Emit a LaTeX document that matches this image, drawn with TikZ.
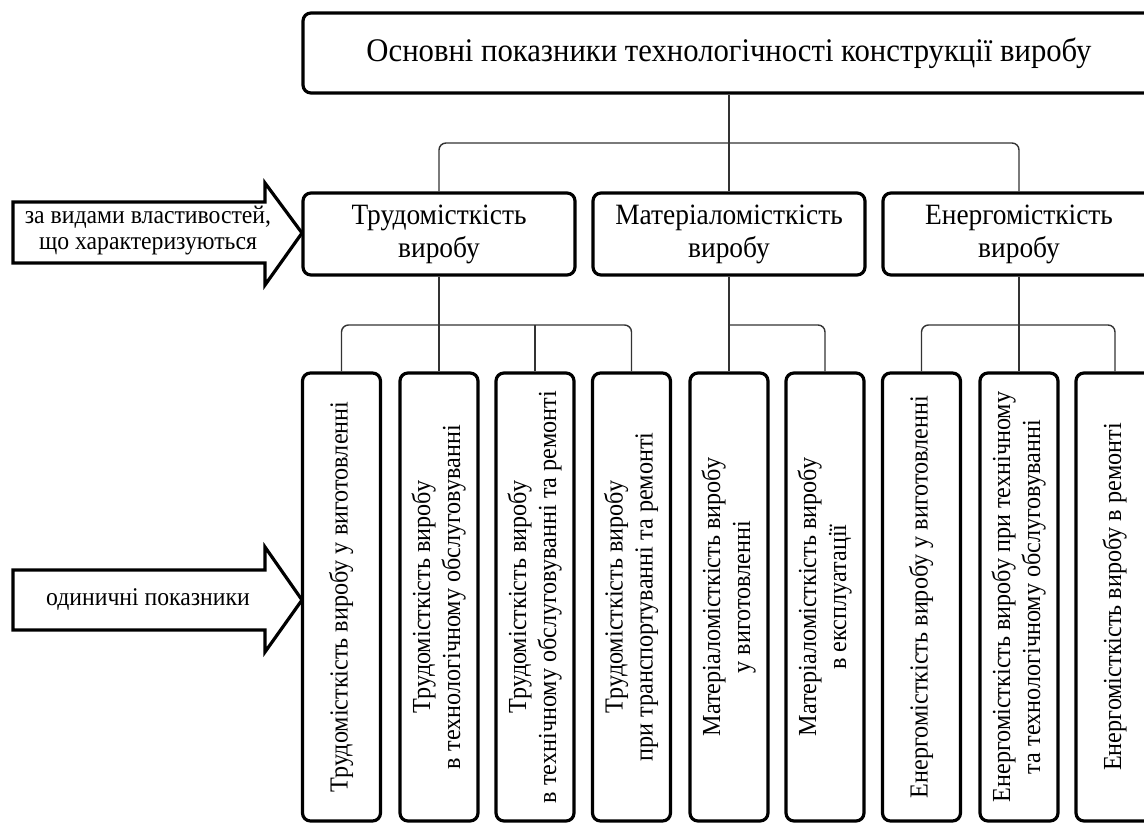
\documentclass[tikz,border=0pt]{standalone}
\usepackage{fontspec}
\setmainfont{Liberation Serif}[FakeStretch=0.93]
\newcommand{\vtext}[1]{\rotatebox{90}{\begin{tabular}{@{}c@{}}#1\end{tabular}}}
\begin{document}
\begin{tikzpicture}[x=1pt, y=-1pt,
    titlebox/.style={draw, line width=3.2pt, rounded corners=8pt, minimum width=852pt, minimum height=80pt, font=\fontsize{33}{38}\selectfont},
    groupbox/.style={draw, line width=3.2pt, rounded corners=8pt, minimum width=272pt, minimum height=82pt, align=center, font=\fontsize{29.5}{33}\selectfont},
    leafbox/.style={draw, line width=3.2pt, rounded corners=8pt, minimum width=78pt, minimum height=448pt, inner sep=0pt, font=\fontsize{26}{30}\selectfont},
    link/.style={line width=1.4pt, draw=black!80, rounded corners=7pt},
    pointer/.style={draw, line width=3.2pt, line join=miter, fill=white},
    note/.style={align=center, font=\fontsize{25.5}{26}\selectfont}]
  \useasboundingbox (0,0) rectangle (1144,823);
  \clip (0,0) rectangle (1144,823);
  % top level
  \node[titlebox] (root) at (729,53) {Основні показники технологічності конструкції виробу};
  % groups
  \node[groupbox] (g1) at (439,234) {Трудомісткість\\виробу};
  \node[groupbox] (g2) at (729,234) {Матеріаломісткість\\виробу};
  \node[groupbox] (g3) at (1019,234) {Енергомісткість\\виробу};
  % single indicators
  \node[leafbox] (l1) at (341.5,597) {\vtext{Трудомісткість виробу у виготовленні}};
  \node[leafbox] (l2) at (439,597) {\vtext{Трудомісткість виробу\\в технологічному обслуговуванні}};
  \node[leafbox] (l3) at (535,597) {\vtext{Трудомісткість виробу\\в технічному обслуговуванні та ремонті}};
  \node[leafbox] (l4) at (631.5,597) {\vtext{Трудомісткість виробу\\при транспортуванні та ремонті}};
  \node[leafbox] (l5) at (729,597) {\vtext{Матеріаломісткість виробу\\у виготовленні}};
  \node[leafbox] (l6) at (825,597) {\vtext{Матеріаломісткість виробу\\в експлуатації}};
  \node[leafbox] (l7) at (921.5,597) {\vtext{Енергомісткість виробу у виготовленні}};
  \node[leafbox] (l8) at (1019,597) {\vtext{Енергомісткість виробу при технічному\\та технологічному обслуговуванні}};
  \node[leafbox] (l9) at (1115,597) {\vtext{Енергомісткість виробу в ремонті}};
  % bus points
  \coordinate (bus1) at (729,143);
  \coordinate (bus2) at (439,325);
  \coordinate (bus3) at (729,325);
  \coordinate (bus4) at (1019,325);
  % connectors
  \draw[link] (root.south) -- (g2.north);
  \draw[link] (g1.north) |- (bus1) -| (g3.north);
  \draw[link] (g1.south) -- (l2.north);
  \draw[link] (l1.north) |- (bus2) -| (l4.north);
  \draw[link] (l3.north) -- (l3.north |- bus2);
  \draw[link] (g2.south) -- (l5.north);
  \draw[link] (bus3) -| (l6.north);
  \draw[link] (g3.south) -- (l8.north);
  \draw[link] (l7.north) |- (bus4) -| (l9.north);
  % side arrows
  \draw[pointer] (13,202) -- (265,202) -- (265,183) -- (302,233) -- (265,285) -- (265,263) -- (13,263) -- cycle;
  \node[note] (kind) at (148,231) {за видами властивостей,\\що характеризуються};
  \draw[pointer] (13,570) -- (265,570) -- (265,547) -- (302,600) -- (265,652) -- (265,630) -- (13,630) -- cycle;
  \node[note] (single) at (148,600) {одиничні показники};
\end{tikzpicture}
\end{document}
